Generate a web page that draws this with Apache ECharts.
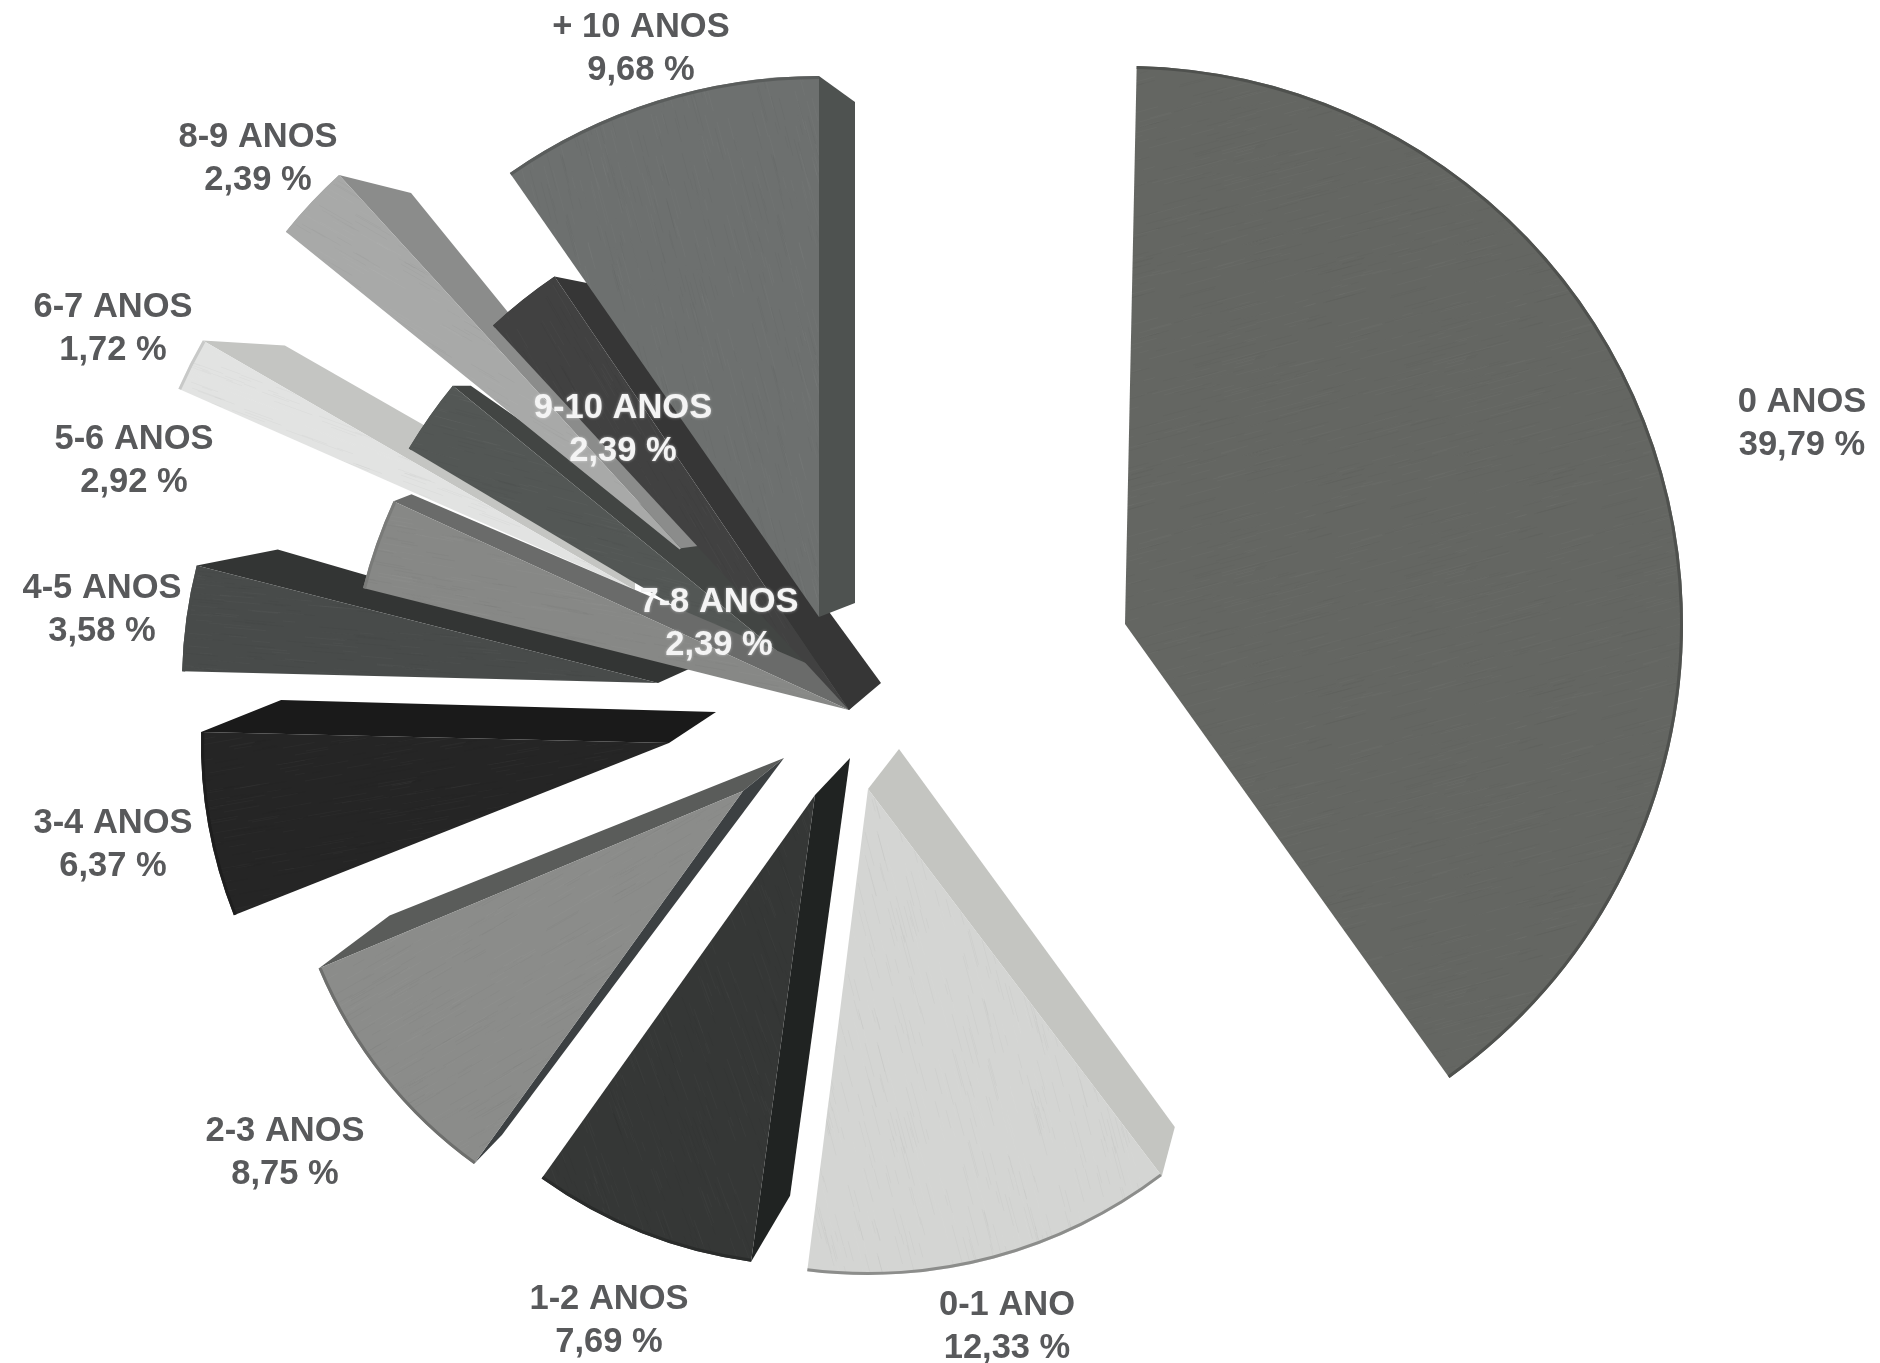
<!DOCTYPE html>
<html>
<head>
<meta charset="utf-8">
<script src="https://cdn.jsdelivr.net/npm/echarts@6/dist/echarts.min.js"></script>
<style>html,body{margin:0;padding:0;background:#fff}#c{width:1880px;height:1363px}</style>
</head>
<body>
<div id="c"></div>
<script>
const categories = ['0 ANOS','0-1 ANO','1-2 ANOS','2-3 ANOS','3-4 ANOS','4-5 ANOS','5-6 ANOS','6-7 ANOS','7-8 ANOS','8-9 ANOS','9-10 ANOS','+ 10 ANOS'];
const values = [39.79,12.33,7.69,8.75,6.37,3.58,2.92,1.72,2.39,2.39,2.39,9.68];
const faceColors = ['#646662','#d4d5d3','#353736','#8b8c8a','#252525','#484b4a','#878886','#e2e3e2','#535755','#a8a9a8','#414141','#6d706f'];
const rimColors  = ['#4f514e','#8c8d8b','#2a2c2b','#6e6f6d','#1e1e1e','#484b4a','#7a7b79','#c8c9c8','#535755','#a8a9a8','#414141','#5a5d5c'];
// brushed finish direction of each face, in degrees
const grainAngle = [-15,75,70,-30,-10,5,10,20,15,30,60,75];
// exploded position of each slice: apex, radius, inner radius, compass start angle
const sliceLayout = [
  {c:[1125,624],r:558,r0:0,start:1.2},
  {c:[868,789],r:486,r0:0,start:142.8},
  {c:[815,795],r:471,r0:0,start:187.8},
  {c:[743,791],r:460,r0:0,start:215.8},
  {c:[669,743],r:468,r0:0,start:248.4},
  {c:[658,683],r:476,r0:0,start:271.4},
  {c:[849,710],r:501,r0:0,start:284.1},
  {c:[635,590],r:499,r0:0,start:293.8},
  {c:[849,710],r:512,r0:0,start:300.7},
  {c:[689,557],r:518,r0:12,start:308.9},
  {c:[849,710],r:524,r0:0,start:317.2},
  {c:[819,617],r:541,r0:0,start:325.15}
];
// extrusion faces: slice, which radial edge, shift of inner and outer end
const sideFaces = [
  {i:1,edge:'start',a:[31,-40],b:[13,-49],color:'#c4c5c1'},
  {i:2,edge:'start',a:[35,-37],b:[39,-66],color:'#202322'},
  {i:3,edge:'end',a:[41,-33],b:[71,-53],color:'#5a5c5a'},
  {i:3,edge:'start',a:[41,-33],b:[28,-29],color:'#3c4042'},
  {i:4,edge:'end',a:[47,-31],b:[80,-32],color:'#1a1a1a'},
  {i:5,edge:'end',a:[31,-14],b:[81,-16],color:'#333534'},
  {i:6,edge:'end',a:[20,-20],b:[18,-7],color:'#6a6b6a'},
  {i:7,edge:'end',a:[0,-44],b:[82,5],color:'#c4c5c2'},
  {i:8,edge:'end',a:[1,-60],b:[18,0],color:'#424543'},
  {i:9,edge:'end',a:[9,-11],b:[72,18],color:'#8b8c8b'},
  {i:10,edge:'end',a:[32,-27],b:[35,7],color:'#363636'},
  {i:11,edge:'end',a:[36,-14],b:[36,26],color:'#4e5250'}
];
// painting order, back to front
const paintOrder = [0,1,2,3,4,5,7,8,6,9,10,11];
const labelPos = [[1802,424],[1007,1327],[609,1321],[285,1153],[113,845],[102,610],[134,461],[113,329],[719,624],[258,159],[623,430],[641,49]];
const labelFill = ['#58595b','#58595b','#58595b','#58595b','#58595b','#58595b','#58595b','#58595b','#f4f4f4','#58595b','#f4f4f4','#58595b'];

const deg = Math.PI/180;
const polar = (c,r,a)=>[c[0]+r*Math.sin(a*deg), c[1]-r*Math.cos(a*deg)];
const total = values.reduce((s,v)=>s+v,0);
const series = [];

// tile with faint fixed streaks, used as the fill of a face
function grainTile(color,angle){
  const S = 211, cv = document.createElement('canvas');
  cv.width = cv.height = S;
  const g = cv.getContext('2d');
  g.fillStyle = color; g.fillRect(0,0,S,S);
  const dx = Math.cos(angle*deg), dy = Math.sin(angle*deg);
  g.lineWidth = 1;
  for(let k=0;k<260;k++){
    const x=(k*k*7+k*37)%S, y=(k*k*3+k*61)%S, len=10+(k*13)%34;
    g.strokeStyle = k%2 ? 'rgba(0,0,0,0.022)' : 'rgba(255,255,255,0.022)';
    for(const ox of [-S,0,S]) for(const oy of [-S,0,S]){
      g.beginPath(); g.moveTo(x+ox,y+oy); g.lineTo(x+ox+dx*len,y+oy+dy*len); g.stroke();
    }
  }
  return {image:cv,repeat:'repeat'};
}

function piece(i,radius,color,z){
  const L = sliceLayout[i];
  return {
    type:'pie', z, silent:true, animation:false, clockwise:true,
    center:L.c, radius, startAngle:90-L.start,
    label:{show:false}, labelLine:{show:false}, emphasis:{disabled:true},
    data:[
      {name:categories[i],value:values[i],itemStyle:{color}},
      {name:'',value:total-values[i],itemStyle:{color:'transparent'}}
    ]
  };
}

paintOrder.forEach((i,k)=>{
  const base = 2+k*3;
  const L = sliceLayout[i];
  sideFaces.filter(s=>s.i===i).forEach(s=>{
    series.push({
      type:'custom', coordinateSystem:'none', z:base, silent:true, animation:false,
      data:[[values[i]]],
      renderItem(params,api){
        const ang = s.edge==='start' ? L.start : L.start+api.value(0)*360/total;
        const inner = polar(L.c,L.r0,ang), rim = polar(L.c,L.r,ang);
        return {type:'polygon',shape:{points:[
          inner, rim, [rim[0]+s.b[0],rim[1]+s.b[1]], [L.c[0]+s.a[0],L.c[1]+s.a[1]]
        ]},style:{fill:s.color}};
      }
    });
  });
  series.push(piece(i,[L.r0,L.r],grainTile(faceColors[i],grainAngle[i]),base+1));
  series.push(piece(i,[L.r-3,L.r],rimColors[i],base+2));
});

series.push({
  type:'custom', coordinateSystem:'none', z:100, silent:true, animation:false,
  data:categories.map((n,i)=>[i]),
  renderItem(params,api){
    const i = api.value(0);
    const inside = labelFill[i]!=='#58595b';
    return {type:'text',style:{
      x:labelPos[i][0], y:labelPos[i][1],
      text:categories[i]+'\n'+values[i].toFixed(2).replace('.',',')+' %',
      fill:labelFill[i], align:'center', verticalAlign:'middle', lineHeight:43,
      font:'bold 34.5px "Liberation Sans", Arial, sans-serif',
      textShadowBlur:inside?3:0, textShadowColor:inside?'rgba(255,255,255,0.5)':'transparent'
    }};
  }
});

const chart = echarts.init(document.getElementById('c'),null,{renderer:'canvas'});
chart.setOption({backgroundColor:'#ffffff',animation:false,tooltip:{show:false},series});
</script>
</body>
</html>
